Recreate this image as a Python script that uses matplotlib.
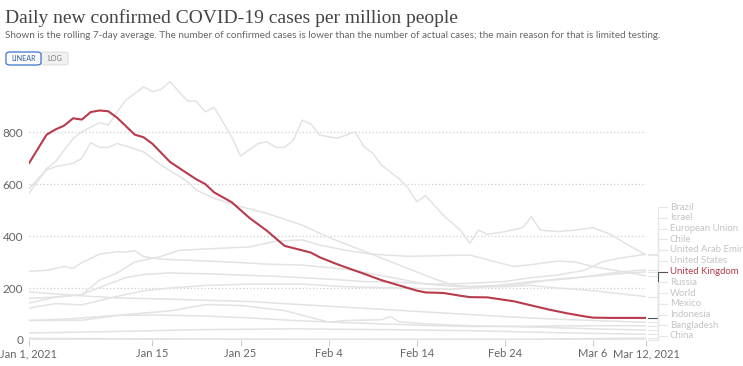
import matplotlib
matplotlib.use('Agg')
import matplotlib.pyplot as plt
from matplotlib.lines import Line2D
from matplotlib.patches import FancyBboxPatch
import pandas as pd

start = pd.Timestamp('2021-01-01')

tick_days = [0, 14, 24, 34, 44, 54, 64, 70]
tick_labels = ['Jan 1, 2021', 'Jan 15', 'Jan 25', 'Feb 4', 'Feb 14', 'Feb 24', 'Mar 6', 'Mar 12, 2021']
y_ticks = [0, 200, 400, 600, 800]

# days since Jan 1 2021 / cases per million (7-day avg)
uk_day = [0, 2, 3, 4, 5, 6, 7, 8, 9, 10, 12, 13, 14, 16, 18, 19, 20, 21, 23, 25, 27, 29, 31, 32, 33, 35, 38, 40, 42, 44, 45, 47, 49, 50, 52, 55, 57, 59, 61, 63, 64, 66, 70]
uk_val = [680, 790, 810, 825, 853, 848, 877, 883, 880, 855, 790, 780, 755, 685, 640, 618, 600, 568, 530, 470, 420, 362, 345, 336, 318, 291, 255, 230, 210, 190, 183, 181, 170, 165, 164, 149, 133, 117, 103, 91, 86, 85, 85]

israel_day = [0, 2, 3, 5, 6, 8, 9, 10, 11, 13, 14, 15, 16, 17, 18, 19, 20, 21, 23, 24, 26, 27, 28, 29, 30, 31, 32, 33, 35, 37, 38, 39, 40, 42, 43, 44, 45, 47, 48, 49, 50, 51, 52, 54, 56, 57, 58, 60, 62, 64, 66, 68, 70]
israel_val = [564, 660, 686, 775, 801, 836, 827, 878, 923, 974, 955, 964, 995, 955, 920, 918, 878, 895, 782, 708, 756, 763, 741, 741, 769, 846, 830, 788, 776, 801, 744, 718, 673, 620, 585, 532, 555, 480, 450, 420, 372, 423, 406, 417, 432, 474, 423, 417, 423, 432, 406, 365, 327]

us_day = [0, 2, 3, 5, 6, 7, 8, 9, 10, 11, 13, 15, 18, 19, 21, 24, 27, 31, 34, 37, 40, 43, 46, 48, 50, 54, 57, 60, 64, 67, 70]
us_val = [583, 654, 667, 680, 699, 759, 741, 741, 756, 746, 724, 673, 609, 577, 545, 513, 487, 442, 395, 355, 315, 275, 235, 212, 205, 205, 210, 200, 190, 178, 167]

eu_day = [0, 2, 4, 5, 6, 8, 10, 11, 12, 13, 15, 20, 24, 27, 31, 36, 40, 45, 49, 53, 57, 61, 64, 67, 70]
eu_val = [264, 268, 283, 275, 298, 330, 340, 338, 344, 321, 311, 304, 298, 292, 288, 272, 248, 215, 205, 210, 225, 235, 248, 262, 270]

uae_day = [0, 3, 6, 8, 10, 12, 15, 17, 20, 23, 25, 28, 31, 33, 36, 39, 43, 47, 50, 53, 55, 57, 60, 62, 64, 67, 70]
uae_val = [142, 165, 175, 230, 258, 300, 322, 345, 350, 355, 358, 380, 385, 365, 345, 330, 322, 325, 327, 300, 283, 290, 304, 300, 282, 265, 247]

brazil_day = [0, 3, 6, 9, 11, 13, 16, 20, 24, 28, 31, 35, 38, 42, 46, 50, 54, 57, 60, 63, 65, 67, 70]
brazil_val = [160, 165, 175, 215, 240, 252, 258, 255, 250, 245, 240, 232, 225, 222, 215, 218, 225, 240, 250, 268, 300, 315, 330]

chile_day = [0, 3, 6, 9, 13, 16, 20, 25, 31, 36, 42, 48, 52, 56, 60, 64, 67, 70]
chile_val = [123, 140, 135, 160, 190, 200, 210, 215, 215, 205, 200, 195, 205, 215, 235, 245, 255, 262]

russia_day = [0, 5, 10, 15, 20, 25, 30, 35, 40, 45, 50, 55, 60, 65, 70]
russia_val = [185, 172, 162, 158, 153, 148, 138, 128, 118, 108, 98, 88, 80, 74, 68]

world_day = [0, 5, 10, 15, 20, 25, 30, 35, 40, 45, 50, 55, 60, 65, 70]
world_val = [75, 82, 95, 96, 92, 85, 75, 68, 62, 56, 52, 52, 54, 55, 55]

mexico_day = [0, 6, 11, 16, 20, 24, 29, 34, 36, 40, 41, 42, 45, 50, 55, 60, 65, 70]
mexico_val = [75, 76, 98, 112, 136, 133, 113, 69, 75, 78, 90, 70, 62, 55, 52, 47, 42, 38]

indonesia_day = [0, 10, 20, 30, 40, 50, 60, 70]
indonesia_val = [27, 33, 40, 43, 40, 36, 28, 22]

bangladesh_day = [0, 20, 40, 55, 70]
bangladesh_val = [6, 4, 3, 3, 7]

china_day = [0, 35, 70]
china_val = [0, 0, 0]

series = [
    ('Brazil', brazil_day, brazil_val),
    ('Israel', israel_day, israel_val),
    ('European Union', eu_day, eu_val),
    ('Chile', chile_day, chile_val),
    ('United Arab Emirates', uae_day, uae_val),
    ('United States', us_day, us_val),
    ('United Kingdom', uk_day, uk_val),
    ('Russia', russia_day, russia_val),
    ('World', world_day, world_val),
    ('Mexico', mexico_day, mexico_val),
    ('Indonesia', indonesia_day, indonesia_val),
    ('Bangladesh', bangladesh_day, bangladesh_val),
    ('China', china_day, china_val),
]

red = '#b73b4a'
grey_line = '#e3e3e3'
grey_text = '#c4c4c4'
axis_text = '#666666'

def to_dates(days):
    return start + pd.to_timedelta(days, unit='D')

fig = plt.figure(figsize=(7.43, 3.66), dpi=100)
ax = fig.add_axes([29 / 743, 26 / 366, 617 / 743, 262 / 366])

for name, d, v in series:
    if name == 'United Kingdom':
        continue
    ax.plot(to_dates(d), v, color=grey_line, lw=1.1, zorder=2)
ax.plot(to_dates(uk_day), uk_val, color=red, lw=1.5, zorder=3)

ax.set_xlim(start, to_dates([70])[0])
ax.set_ylim(0, 1008)
for yv in y_ticks[1:]:
    ax.axhline(yv, color='#d6d6d6', lw=0.9, ls=(0, (1.2, 1.6)), zorder=1)
ax.axhline(0, color='#d9d9d9', lw=1.0, zorder=1)

for s in ax.spines.values():
    s.set_visible(False)
ax.set_yticks(y_ticks)
ax.set_yticklabels([str(t) for t in y_ticks])
ax.tick_params(axis='y', length=0, pad=4, labelsize=8.5, labelcolor=axis_text)
ax.set_xticks(to_dates(tick_days))
ax.set_xticklabels(tick_labels)
ax.tick_params(axis='x', length=4, color='#cccccc', width=0.8, pad=2, labelsize=8, labelcolor=axis_text)
for lab in ax.get_xticklabels() + ax.get_yticklabels():
    lab.set_fontfamily('Lato')
ax.patch.set_alpha(0)

# right-hand labels with leader lines
fig.canvas.draw()
to_fig = fig.transFigure.inverted()
W, H = 743, 366
end_x = ax.get_position().x1 * W
n = len(series)
for i, (name, d, v) in enumerate(series):
    label_y = H - (207 + i * (336 - 207) / (n - 1))
    end_y = ax.transData.transform((0, v[-1]))[1]
    col = red if name == 'United Kingdom' else grey_text
    lcol = '#555555' if name == 'United Kingdom' else '#e6e6e6'
    pts = [(end_x + 2, end_y), (end_x + 12, end_y), (end_x + 12, label_y), (end_x + 21, label_y)]
    xs, ys = zip(*[to_fig.transform(p) for p in pts])
    fig.add_artist(Line2D(xs, ys, color=lcol, lw=0.8, transform=fig.transFigure, zorder=1))
    fx, fy = to_fig.transform((end_x + 24, label_y))
    fig.text(fx, fy, name, color=col, fontsize=6.9, family='Lato', va='center', ha='left')

# header
fig.text(5 / W, 1 - 18 / H, 'Daily new confirmed COVID-19 cases per million people',
         family='Liberation Serif', fontsize=14, color='#444444', va='center', ha='left')
fig.text(5 / W, 1 - 36 / H,
         'Shown is the rolling 7-day average. The number of confirmed cases is lower than the number of actual cases; the main reason for that is limited testing.',
         family='Lato', fontsize=7.1, color='#666666', va='center', ha='left')

lin = FancyBboxPatch((6 / W, 1 - 65 / H), 35 / W, 13 / H, boxstyle='round,pad=0,rounding_size=0.006',
                     transform=fig.transFigure, facecolor='white', edgecolor='#3b73c8', lw=0.9)
logb = FancyBboxPatch((41 / W, 1 - 65 / H), 27 / W, 13 / H, boxstyle='round,pad=0,rounding_size=0.006',
                      transform=fig.transFigure, facecolor='#f1f1f1', edgecolor='#dddddd', lw=0.8)
fig.add_artist(logb)
fig.add_artist(lin)
fig.text(23.5 / W, 1 - 58.5 / H, 'LINEAR', family='Lato', fontsize=5.2, color='#2f5f9e', ha='center', va='center')
fig.text(54.5 / W, 1 - 58.5 / H, 'LOG', family='Lato', fontsize=5.2, color='#777777', ha='center', va='center')

fig.savefig('out.png', dpi=100, facecolor='white')
